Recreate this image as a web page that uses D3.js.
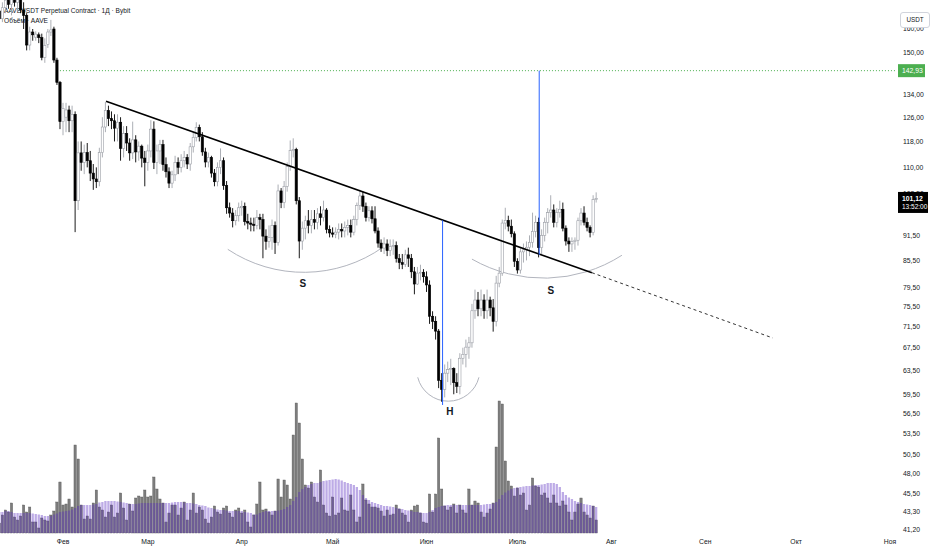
<!DOCTYPE html>
<html><head><meta charset="utf-8">
<script src="https://cdn.jsdelivr.net/npm/d3@7/dist/d3.min.js"></script>
<style>body{margin:0;background:#fff}svg{display:block}</style>
</head><body>
<svg id="chart" width="932" height="550"></svg>
<script>
// ---------- DATA ----------
const firstDay = "2022-01-11"; // one daily candle per day from here
const open  = [168,164.5,169.5,173,171,174.5,172,175,168.5,166,153.2,158.7,156.5,157.5,156.3,148.2,153.5,158.7,160,147.1,138.5,124.5,126,128.5,124.8,127,100.5,114.4,111.5,114.5,112,108.3,106.6,105.8,114.5,122.7,128.3,125.5,124.8,122.3,124.3,115.8,120.5,117.5,114.4,118.5,114.7,116.5,112.8,111.5,115,122,111.4,115,117,110.8,108.7,105.4,107.8,111.5,110,112,113,111,116.3,119.3,122.6,119.5,114.7,111.6,113,108.3,105.8,110,112,104.7,98.6,97.2,95.2,96.5,98.6,99,95,94.6,94.3,94,96,95.5,91.3,90,91,94,89.7,103.2,100,104.5,110.2,115.1,115.5,100.5,90.1,93.3,95.2,94,95.5,94.8,97,96,98,93,92.1,91.8,92.3,93,92.6,93.5,94,92.3,95.5,99.2,101.8,99,96,97.8,95.7,92.6,89.6,88.4,89.4,87.8,88.8,89,85.9,85,84.6,86.8,86,82.9,80.2,82.6,82.8,81.8,80,73.5,72.5,70.6,61.8,60.3,63,63.6,63.8,61.4,60.8,65.6,66.3,67.6,68.4,74.6,76.8,75,76.8,74.6,76.8,75.2,72.5,80.4,82.6,94.6,95.3,93.8,91.9,85.3,83.3,87.5,88,88.6,89.8,92.5,94.8,88.5,91.5,94.8,97.3,98,94.8,97.3,98.2,93.3,90.1,89.4,90,90.3,95.2,97.2,94.8,93.5,92.2,100.8];
const high  = [171,172,176,178,176,179,177,177,172,167,161,160,159,158.5,158,156,160,164,161,148,139,131,131,130,130,128,118,118,117,117.5,115,111,110,116,126,131.3,130,128,127,127,126,123,123,119,124.5,120,118,117,115,117,125,124.6,117,118.5,118.5,113,110,109,113.5,113,114,115,114,117.5,121,124.3,123.5,121,116,114.5,113.5,109.5,111.5,115.8,113,106,100,98.5,98,100,100.5,100,97,96,96,98,97,97,93,94,95.5,95,105,104,106,111.5,118.3,119,116,101.5,95,96.5,98,98,98,98.5,99,100.5,98.5,94,93.5,93.5,94.5,94.5,95,95.5,95.5,96.5,100,103.5,103,100,99,99,99,93.5,90.5,91,90.5,90.5,90.5,90,87,87,88,88.5,87,84,84,84.5,83.5,83,81,74.5,73.5,71,63,64.5,65,65.5,64,63,66.5,67.5,69,69.5,76,79,78.5,79,78,79,77.5,77,82,84,95.5,98.6,96.5,95.5,92.5,86,88.5,89.5,90,91.5,97.3,96.5,96,93,96,98.5,102,99.5,98.5,100.5,100,94,91,91,91,96,98.5,99,96,94,102,102.8];
const low   = [163,163,167,169,166,170,168,167,160,151,151,155,155,154,147,146,152,157,146,137.5,122,120,121,121,121,92.3,98,109,108,110,106,103.5,104,104.5,113,121,123,122,118,118,112,113,115,112,112.5,111.5,112,110,104.5,109,113,109.5,108,111,109,107,104,104,106,108,108.5,110,109.5,109,114.5,118,118,113.5,110,110,107,104.5,104.5,108,103.5,97,96,93.5,94,95,96.5,94,93,92.5,92.5,93,93,86,88,88.5,88,87,89,98.5,98.5,103,109,113,99.5,86,88,90.5,92,92,93,93,94,95,92,91,91,90.8,90.5,91,91,91.5,91,91.5,94,98,97.5,95,95,94.5,92,88.5,87.5,87,86.5,86.5,86.8,85,83.5,83.5,84,84,81.5,78,80,81,80.5,78.5,72,71,69,60.5,58.3,59,61.5,61,59.5,59.7,59.5,64.5,64,65.5,67.5,73,73.5,73.5,73,73,73.5,70.5,71.5,79.5,82,93,92.5,91,84,82.5,82.5,85,85.5,86.5,88.5,91,86.2,87,90,92,96,93.5,93.5,96,92.5,89,87.5,87.5,88,89,94,94,92.5,91,91.5,100];
const close = [164.5,169.5,173,171,174.5,172,175,168.5,166,153.2,158.7,157.5,157.8,156.3,148.2,153,158.7,159.6,147.1,138.5,124.5,129,128.5,124.8,127,100.5,114.4,111.5,114.5,112,108.3,106.6,105.8,114.5,122.7,128.3,125.5,124.8,122.3,124.3,115.8,120.5,117.5,114.4,118.5,114.7,116.5,112.8,111.5,115,122,111.4,115,117,110.8,108.7,105.4,107.8,111.5,110,112,113,111,116.3,119.3,122.6,119.5,114.7,111.6,113,108.3,105.8,110,112,104.7,98.6,97.2,95.2,96.5,98.6,99,95,94.6,94.3,94,96,95.5,91.3,90,91,94,89.7,103.2,100,104.5,110.2,115.1,115.5,100.5,90.1,93.3,95.2,94,95.5,94.8,97,96,98,93,92.1,91.8,92.3,93,92.6,93.5,94,92.3,95.5,99.2,101.8,99,96,97.8,95.7,92.6,89.6,88.4,89.4,87.8,88.8,89,85.9,85,84.6,86.8,86,82.9,80.2,82.6,82.8,81.8,80,73.5,72.5,70.6,61.8,60.3,63,63.6,63.8,61.4,60.8,65.6,66.3,67.6,68.4,74.6,76.8,75,76.8,74.6,76.8,75.2,72.5,80.4,82.6,94.6,95.3,93.8,91.9,85.3,83.3,87.5,88,88.6,89.8,92.5,94.8,88.5,91.5,94.8,97.3,98,94.8,97.3,98.2,93.3,90.1,89.4,90,90.3,95.2,97.2,94.8,93.5,92.2,100.8,101.12];
const volume = [10,18,23,21,30,16,13,17,28,21,26,11,11,5,15,13,12,18,22,31,51,28,29,34,26,88,74,28,14,17,14,30,43,26,23,16,21,28,16,20,40,25,13,29,22,35,37,36,43,36,37,56,44,34,30,11,20,28,28,18,25,31,13,23,40,20,26,23,14,10,16,27,21,19,25,27,20,16,23,25,20,23,11,6,18,29,51,23,24,21,18,22,54,36,53,48,34,98,130,110,74,48,45,51,36,31,63,28,20,17,36,18,20,35,23,22,38,23,11,16,49,33,29,26,26,25,22,17,23,18,19,28,24,20,18,11,23,27,28,20,11,10,39,21,39,95,44,27,23,26,29,20,28,23,20,44,28,32,30,21,16,20,24,30,86,132,129,72,52,47,37,45,38,40,23,28,55,47,46,38,40,35,30,38,30,27,32,28,21,13,21,29,35,21,18,15,27,13];
const volumeMA = [21,21,22,22,21,20,20,20,20,20,20,19.5,19,18.5,18,17,17,17,18.5,19.5,21,21.5,22,22.5,23.5,25,27,28,28,28,28,28.5,29,30.5,31,32,32,32,32,31.5,31,30.5,30,29,29,29,29.5,30,30,30,30,30,30,30,30,30,30,30.5,31,31,31,30.5,30,30,29.5,29,28,27.5,27,25.5,25,24,23.5,23,23,22.5,22,22,22,22,22,21,20.5,20,18.5,18.5,20,21,22,22,22,22,22.5,23,24,26,28,32,36,41,44,46,48,49,50,50,51,52,52.5,53,53.5,54,53.5,52.5,51,50,49,48,46,43,38,35,33,31,30,29,28,27,27,26.5,26,25,24.5,24,23,22.5,22,21,21,20.5,20,20,21,23,25,26,27,27.5,28,28,28,28,28,28,28,28,28,28,28,28,28.5,29,29,29.5,31,34,38,40.5,42.5,44,45,45.5,46,46.5,47,47,47.5,48,48,48.5,49,50,50,50,49,46,41,38,35.5,34,32,31,30,29,28.5,28,27,26];
const priceTicks = [160,150,134,126,118,110,102.5,91.5,85.5,79.5,75.5,71.5,67.5,63.5,59.5,56.5,53.5,50.5,48,45.5,43.3,41.2];
const monthStarts = ["2022-02-01","2022-03-01","2022-04-01","2022-05-01","2022-06-01","2022-07-01","2022-08-01","2022-09-01","2022-10-01","2022-11-01"];
const monthLabels = ["Фев","Мар","Апр","Май","Июн","Июль","Авг","Сен","Окт","Ноя"];
const targetPrice = 142.93;
const lastPrice = 101.12;
const countdown = "13:52:00";
// annotations: [day offset from firstDay, price]
const neckline = [[35.2,131.6],[195.6,82.7]];
const necklineExt = [[195.6,82.7],[255.3,69.3]];
const measureLines = [[[146.3,95.3],[146.3,57.8]],[[178.2,142.93],[178.2,86.8]]];
const arcs = [
  [[75.4,88.1],[99.2,82.8],[126.6,88.6]],
  [[138.1,62.3],[148.05,58.4],[158.3,62.3]],
  [[156.0,85.8],[181.1,81.5],[205.5,86.7]]
];
const patternLabels = [["S",100.2,79.5],["H",148.7,56.2],["S",182.0,78.0]];

// ---------- SCALES ----------
const svg = d3.select("#chart");
const day = 864e5;
const t0 = Date.parse(firstDay + "T00:00:00Z");
const dateAt = o => new Date(t0 + o * day);
const x = d3.scaleUtc()
  .domain([new Date("2022-02-01T00:00:00Z"), new Date("2022-11-01T00:00:00Z")])
  .range([63, 890]);
const xd = o => x(dateAt(o));
const y = d3.scaleLog().domain([41.2, 160]).range([530, 29]);
const yv = d3.scaleLinear().domain([0, 130]).range([533, 403]);
const P = (o, p) => [xd(o), y(p)];
const fmt = v => d3.format(".2f")(v).replace(".", ",");
const FONT = "Liberation Sans, Arial, sans-serif";
const INK = "#131722";

const candles = open.map((o, i) => ({i, o, h: high[i], l: low[i], c: close[i], v: volume[i], m: volumeMA[i]}));

// ---------- TITLE (under candles) ----------
svg.append("text").attr("x", 4).attr("y", 12.5).attr("font-family", FONT).attr("font-size", 6.6)
  .attr("fill", INK).text("AAVEUSDT Perpetual Contract · 1Д · Bybit");
svg.append("text").attr("x", 4).attr("y", 22.5).attr("font-family", FONT).attr("font-size", 6.6)
  .attr("fill", INK).text("Объём · AAVE");

const plot = svg.append("g");
svg.append("defs").append("clipPath").attr("id", "clip")
  .append("rect").attr("x", 0).attr("y", 0).attr("width", 896).attr("height", 535);
plot.attr("clip-path", "url(#clip)");

// ---------- VOLUME ----------
const bw = 2.3;
plot.append("g").selectAll("rect").data(candles).join("rect")
  .attr("x", d => xd(d.i) - bw / 2).attr("width", bw)
  .attr("y", d => yv(d.v)).attr("height", d => yv(0) - yv(d.v))
  .attr("fill", "#7d7d7d").attr("stroke", "#575757").attr("stroke-width", 0.4);
plot.append("g").selectAll("rect").data(candles).join("rect")
  .attr("x", d => xd(d.i) - bw / 2).attr("width", bw)
  .attr("y", d => yv(d.m)).attr("height", d => yv(0) - yv(d.m))
  .attr("fill", "#5b2cc0").attr("fill-opacity", 0.4);

// ---------- TARGET DOTTED LINE ----------
plot.append("line").attr("x1", xd(19)).attr("x2", 896)
  .attr("y1", y(targetPrice)).attr("y2", y(targetPrice))
  .attr("stroke", "#4caf50").attr("stroke-width", 1).attr("stroke-dasharray", "1,2");

// ---------- ARCS ----------
function circ(a, b, c) {
  const [ax, ay] = a, [bx, by] = b, [cx, cy] = c;
  const d = 2 * (ax * (by - cy) + bx * (cy - ay) + cx * (ay - by));
  const ux = ((ax*ax+ay*ay)*(by-cy) + (bx*bx+by*by)*(cy-ay) + (cx*cx+cy*cy)*(ay-by)) / d;
  const uy = ((ax*ax+ay*ay)*(cx-bx) + (bx*bx+by*by)*(ax-cx) + (cx*cx+cy*cy)*(bx-ax)) / d;
  return Math.hypot(ax - ux, ay - uy);
}
arcs.forEach(a => {
  const p = a.map(q => P(q[0], q[1]));
  const r = circ(p[0], p[1], p[2]);
  plot.append("path").attr("d", `M${p[0][0]},${p[0][1]} A${r},${r} 0 0,0 ${p[2][0]},${p[2][1]}`)
    .attr("fill", "none").attr("stroke", "#b2b5be").attr("stroke-width", 1);
});

// ---------- CANDLES ----------
const cw = 2.3;
const cg = plot.append("g");
cg.selectAll("line").data(candles).join("line")
  .attr("x1", d => xd(d.i)).attr("x2", d => xd(d.i))
  .attr("y1", d => y(d.h)).attr("y2", d => y(d.l))
  .attr("stroke", d => d.c >= d.o ? "#a3a6ad" : "#000").attr("stroke-width", 0.9);
cg.selectAll("rect").data(candles).join("rect")
  .attr("x", d => xd(d.i) - cw / 2).attr("width", cw)
  .attr("y", d => y(Math.max(d.o, d.c)))
  .attr("height", d => Math.max(0.8, Math.abs(y(d.o) - y(d.c))))
  .attr("fill", d => d.c >= d.o ? "#fff" : "#000")
  .attr("stroke", d => d.c >= d.o ? "#9a9da5" : "#000").attr("stroke-width", 0.6);

// ---------- NECKLINE & MEASURE LINES ----------
const ln = d3.line();
plot.append("path").attr("d", ln(neckline.map(q => P(q[0], q[1]))))
  .attr("stroke", "#000").attr("stroke-width", 1.6).attr("fill", "none");
plot.append("path").attr("d", ln(necklineExt.map(q => P(q[0], q[1]))))
  .attr("stroke", "#333").attr("stroke-width", 1).attr("stroke-dasharray", "3,3").attr("fill", "none");
measureLines.forEach(m => {
  plot.append("path").attr("d", ln(m.map(q => P(q[0], q[1]))))
    .attr("stroke", "#2962ff").attr("stroke-width", 1).attr("fill", "none");
});
patternLabels.forEach(([t, o, p]) => {
  plot.append("text").attr("x", xd(o)).attr("y", y(p)).attr("text-anchor", "middle")
    .attr("font-family", FONT).attr("font-size", 10).attr("font-weight", "bold").attr("fill", INK).text(t);
});

// ---------- PRICE AXIS ----------
const ax = svg.append("g");
ax.selectAll("text").data(priceTicks).join("text")
  .attr("x", 903).attr("y", d => y(d) + 2.4)
  .attr("font-family", FONT).attr("font-size", 6.8).attr("fill", INK).text(d => fmt(d));
ax.append("rect").attr("x", 900.5).attr("y", 12.5).attr("width", 29).attr("height", 15).attr("rx", 2.5)
  .attr("fill", "#fff").attr("stroke", "#d1d4dc");
ax.append("text").attr("x", 915).attr("y", 22.3).attr("text-anchor", "middle")
  .attr("font-family", FONT).attr("font-size", 6.3).attr("fill", INK).text("USDT");
ax.append("rect").attr("x", 898).attr("y", y(targetPrice) - 6.5).attr("width", 27).attr("height", 13)
  .attr("fill", "#4caf50");
ax.append("text").attr("x", 902).attr("y", y(targetPrice) + 2.4)
  .attr("font-family", FONT).attr("font-size", 6.8).attr("fill", "#fff").text(fmt(targetPrice));
ax.append("rect").attr("x", 898).attr("y", y(lastPrice) - 6.5).attr("width", 30).attr("height", 21)
  .attr("fill", "#000");
ax.append("text").attr("x", 902).attr("y", y(lastPrice) + 2.5)
  .attr("font-family", FONT).attr("font-size", 6.8).attr("font-weight", "bold").attr("fill", "#fff").text(fmt(lastPrice));
ax.append("text").attr("x", 902).attr("y", y(lastPrice) + 11)
  .attr("font-family", FONT).attr("font-size", 6.5).attr("fill", "#fff").text(countdown);

// ---------- TIME AXIS ----------
svg.append("g").selectAll("text").data(monthStarts).join("text")
  .attr("x", d => x(new Date(d + "T00:00:00Z"))).attr("y", 543.5).attr("text-anchor", "middle")
  .attr("font-family", FONT).attr("font-size", 6.8).attr("fill", INK)
  .text((d, i) => monthLabels[i]);
</script>
</body></html>
